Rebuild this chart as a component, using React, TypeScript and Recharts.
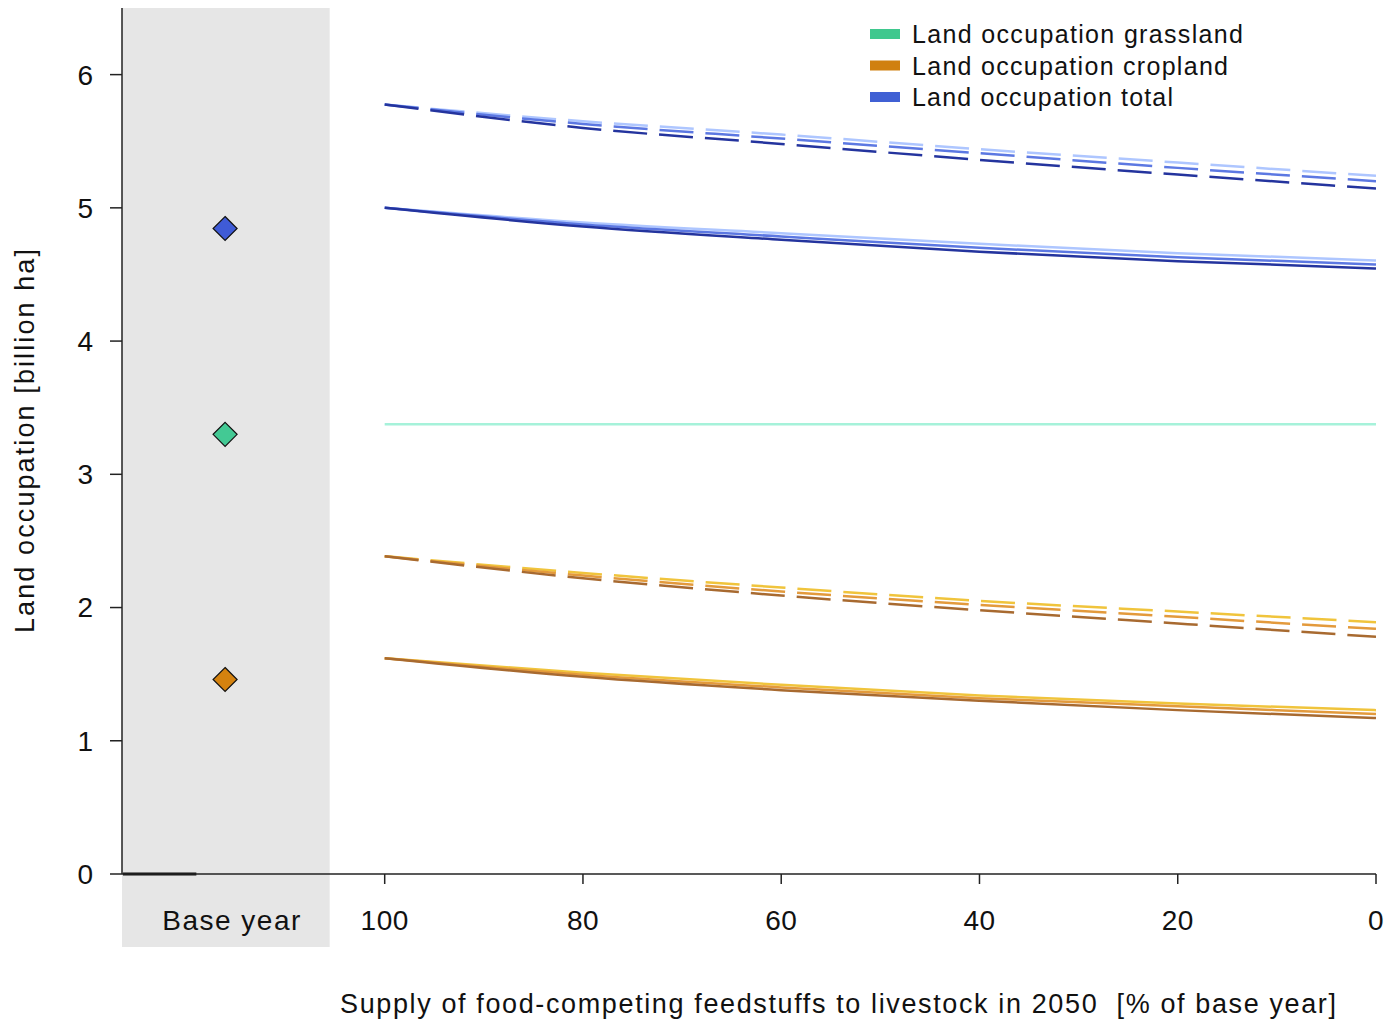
import React from "react";
import {
  ComposedChart, Line, Scatter, XAxis, YAxis, ReferenceArea, ReferenceLine, Legend
} from "recharts";

const FONT = "'Liberation Sans', Arial, sans-serif";

// supply of food-competing feedstuffs, % of base year
const supplyPct = [100, 80, 60, 40, 20, 0];

// land occupation, billion ha
const totalDashedLight = [5.775, 5.65, 5.55, 5.44, 5.34, 5.24];
const totalDashedMid = [5.775, 5.63, 5.52, 5.41, 5.3, 5.2];
const totalDashedDark = [5.775, 5.6, 5.48, 5.36, 5.25, 5.145];
const totalSolidLight = [5.0, 4.89, 4.81, 4.73, 4.66, 4.605];
const totalSolidMid = [5.0, 4.875, 4.785, 4.7, 4.63, 4.575];
const totalSolidDark = [5.0, 4.86, 4.76, 4.67, 4.6, 4.545];
const grassland = [3.375, 3.375, 3.375, 3.375, 3.375, 3.375];
const cropDashedYellow = [2.385, 2.26, 2.15, 2.05, 1.97, 1.89];
const cropDashedOrange = [2.385, 2.24, 2.12, 2.02, 1.93, 1.84];
const cropDashedBrown = [2.385, 2.22, 2.09, 1.98, 1.88, 1.78];
const cropSolidYellow = [1.62, 1.51, 1.42, 1.34, 1.28, 1.23];
const cropSolidOrange = [1.62, 1.495, 1.4, 1.32, 1.26, 1.2];
const cropSolidBrown = [1.62, 1.48, 1.38, 1.3, 1.23, 1.17];

// base year values
const baseTotal = 4.845;
const baseGrass = 3.3;
const baseCrop = 1.46;

const yTicks = [0, 1, 2, 3, 4, 5, 6];
const xTicks = [-15.4, 0, 20, 40, 60, 80, 100];

const legendItems = [
  { name: "Land occupation grassland", color: "#3fc88e", len: 331 },
  { name: "Land occupation cropland", color: "#d0800f", len: 316 },
  { name: "Land occupation total", color: "#4060d4", len: 261 },
];

const rows = supplyPct.map((p, i) => ({
  pos: 100 - p,
  tdL: totalDashedLight[i], tdM: totalDashedMid[i], tdD: totalDashedDark[i],
  tsL: totalSolidLight[i], tsM: totalSolidMid[i], tsD: totalSolidDark[i],
  gr: grassland[i],
  cdY: cropDashedYellow[i], cdO: cropDashedOrange[i], cdB: cropDashedBrown[i],
  csY: cropSolidYellow[i], csO: cropSolidOrange[i], csB: cropSolidBrown[i],
}));

const lines = [
  { key: "gr", color: "#a6f2da", dash: undefined },
  { key: "tdL", color: "#aec6ff", dash: "34 12" },
  { key: "tdM", color: "#5c78e2", dash: "34 12" },
  { key: "tdD", color: "#24349e", dash: "34 12" },
  { key: "tsL", color: "#aec6ff", dash: undefined },
  { key: "tsM", color: "#5c78e2", dash: undefined },
  { key: "tsD", color: "#24349e", dash: undefined },
  { key: "cdY", color: "#f0c43c", dash: "34 12" },
  { key: "cdO", color: "#e39a3c", dash: "34 12" },
  { key: "cdB", color: "#a86a30", dash: "34 12" },
  { key: "csY", color: "#f0c43c", dash: undefined },
  { key: "csO", color: "#e39a3c", dash: undefined },
  { key: "csB", color: "#a86a30", dash: undefined },
];

const baseMarkers = [
  { pos: -16.1, v: baseTotal, fill: "#3f5bd6" },
  { pos: -16.1, v: baseGrass, fill: "#43c994" },
  { pos: -16.1, v: baseCrop, fill: "#d4820f" },
];

function Diamond(props: any) {
  const { cx, cy, payload } = props;
  const r = 12;
  return (
    <polygon
      points={`${cx},${cy - r} ${cx + r},${cy} ${cx},${cy + r} ${cx - r},${cy}`}
      fill={payload.fill}
      stroke="#111"
      strokeWidth={1.2}
    />
  );
}

function XTick(props: any) {
  const { x, y, payload } = props;
  const isBase = payload.value < 0;
  return (
    <g>
      {!isBase && <line x1={x} x2={x} y1={y - 10} y2={y} stroke="#222" strokeWidth={1.5} />}
      <text x={x} y={y + 46} textAnchor="middle" fontSize={28} fontFamily={FONT} fill="#111"
        letterSpacing={isBase ? 1.5 : 0.5}>
        {isBase ? "Base year" : 100 - payload.value}
      </text>
    </g>
  );
}

function XLabel(props: any) {
  const vb = props.viewBox;
  return (
    <text x={vb.x + 218} y={vb.y + 139} fontSize={27} fontFamily={FONT} fill="#111"
      textLength={996} lengthAdjust="spacing" style={{ whiteSpace: "pre" }}>
      {"Supply of food-competing feedstuffs to livestock in 2050  [% of base year]"}
    </text>
  );
}

function YLabel(props: any) {
  const vb = props.viewBox;
  const cx = 34;
  const cy = vb.y + vb.height / 2;
  return (
    <text x={cx} y={cy} transform={`rotate(-90, ${cx}, ${cy})`} textAnchor="middle"
      fontSize={27} fontFamily={FONT} fill="#111" textLength={384} lengthAdjust="spacing">
      Land occupation [billion ha]
    </text>
  );
}

function LegendBox() {
  return (
    <svg width={420} height={100}>
      {legendItems.map((it, i) => {
        const cy = 20 + i * 31.5;
        return (
          <g key={it.name}>
            <rect x={4} y={cy - 5} width={30} height={10} fill={it.color} />
            <text x={46} y={cy + 9} fontSize={25} fontFamily={FONT} fill="#111"
              textLength={it.len} lengthAdjust="spacing">
              {it.name}
            </text>
          </g>
        );
      })}
    </svg>
  );
}

function BaseShade(props: any) {
  const { x, y, width, height } = props;
  return <rect x={x} y={y} width={width} height={height + 73} fill="#e6e6e6" />;
}

export default function App() {
  return (
    <div style={{ position: "absolute", left: 0, top: 0, width: 1388, height: 1024, background: "#fff" }}>
      <ComposedChart width={1388} height={1024} data={rows}
        margin={{ top: 8, right: 12, bottom: 0, left: 0 }}>
        <ReferenceArea x1={-26.5} x2={-5.55} shape={BaseShade} ifOverflow="visible" />
        <XAxis dataKey="pos" type="number" domain={[-26.5, 100]} allowDataOverflow
          ticks={xTicks} interval={0} height={150} tickSize={10} tickMargin={0}
          tickLine={false} tick={<XTick />} axisLine={{ stroke: "#222", strokeWidth: 1.5 }}
          label={<XLabel />} />
        <YAxis type="number" domain={[0, 6.5]} ticks={yTicks} width={122} tickSize={12}
          tickMargin={17} axisLine={{ stroke: "#222", strokeWidth: 1.5 }}
          tickLine={{ stroke: "#222", strokeWidth: 1.5 }}
          tick={{ fontSize: 28, fontFamily: FONT, fill: "#111" }}
          label={<YLabel />} />
        <ReferenceLine segment={[{ x: -26.4, y: 0 }, { x: -19, y: 0 }]} stroke="#111"
          strokeWidth={3} ifOverflow="visible" />
        {lines.map((l) => (
          <Line key={l.key} dataKey={l.key} type="monotone" stroke={l.color} strokeWidth={2.5}
            strokeDasharray={l.dash} dot={false} activeDot={false} isAnimationActive={false} />
        ))}
        <Scatter data={baseMarkers} dataKey="v" shape={<Diamond />} isAnimationActive={false} />
        <Legend layout="vertical" align="center" verticalAlign="middle" content={<LegendBox />}
          wrapperStyle={{ top: 14, left: 866, width: 420, height: 100 }} />
      </ComposedChart>
    </div>
  );
}
